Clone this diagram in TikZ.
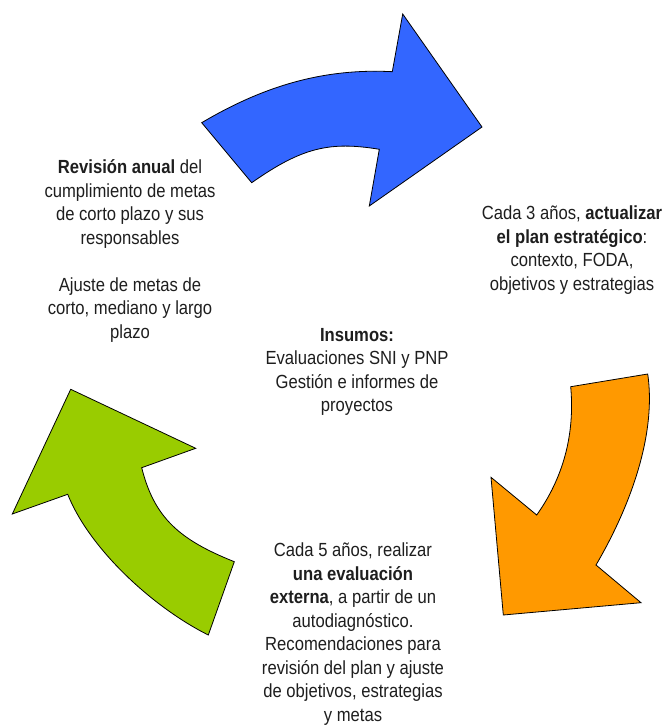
\documentclass[tikz,border=0pt]{standalone}
\usepackage{fontspec}
\setmainfont[FakeStretch=0.875]{Liberation Sans}
\definecolor{arrblue}{RGB}{51,102,255}
\definecolor{arrorange}{RGB}{255,153,0}
\definecolor{arrgreen}{RGB}{153,204,0}
\definecolor{txtgray}{RGB}{30,30,30}
\begin{document}
\begin{tikzpicture}[x=1pt,y=-1pt,
  bigarrow/.style={draw=black,line width=0.8pt,line join=miter},
  caption/.style={align=center,text=txtgray,inner sep=0pt,
    font=\fontsize{19}{23.5}\selectfont}]
\useasboundingbox[fill=white] (0,0) rectangle (668,727);
% blue arrow (top)
\filldraw[bigarrow,fill=arrblue]
  (201.7,122.7) .. controls (262,87) and (322,68) .. (392.3,71.7)
  -- (402.7,14) -- (482,127) -- (369.3,206) -- (379.3,149.3)
  .. controls (329.3,141) and (301.7,147.7) .. (251.7,182.7) -- cycle;
% orange arrow (right)
\filldraw[bigarrow,fill=arrorange]
  (647.7,374) -- (570.7,386.7)
  .. controls (575,435) and (563,478) .. (536.7,515)
  -- (491,477.3) -- (503.3,615) -- (641,602.7) -- (596,565)
  .. controls (634,500) and (656,430) .. (647.7,374) -- cycle;
% green arrow (left)
\filldraw[bigarrow,fill=arrgreen]
  (70.7,389.3) -- (195.7,448.3) -- (141.7,467.7)
  .. controls (154.2,517.7) and (179.3,539.7) .. (234.3,561.7)
  -- (208.3,635)
  .. controls (153.3,607.5) and (89.7,549.3) .. (67.7,494.3)
  -- (12.3,514) -- cycle;
% texts
\node[caption] (rev) at (130,251) {\textbf{Revisión anual} del\\cumplimiento de metas\\de corto plazo y sus\\responsables\\[23.5pt]Ajuste de metas de\\corto, mediano y largo\\plazo};
\node[caption] (act) at (572,250) {Cada 3 años, \textbf{actualizar}\\\textbf{el plan estratégico}:\\contexto, FODA,\\objetivos y estrategias};
\node[caption] (ins) at (357,372) {\textbf{Insumos:}\\Evaluaciones SNI y PNP\\Gestión e informes de\\proyectos};
\node[caption] (ext) at (353,634) {Cada 5 años, realizar\\\textbf{una evaluación}\\\textbf{externa}, a partir de un\\autodiagnóstico.\\Recomendaciones para\\revisión del plan y ajuste\\de objetivos, estrategias\\y metas};
\end{tikzpicture}
\end{document}
